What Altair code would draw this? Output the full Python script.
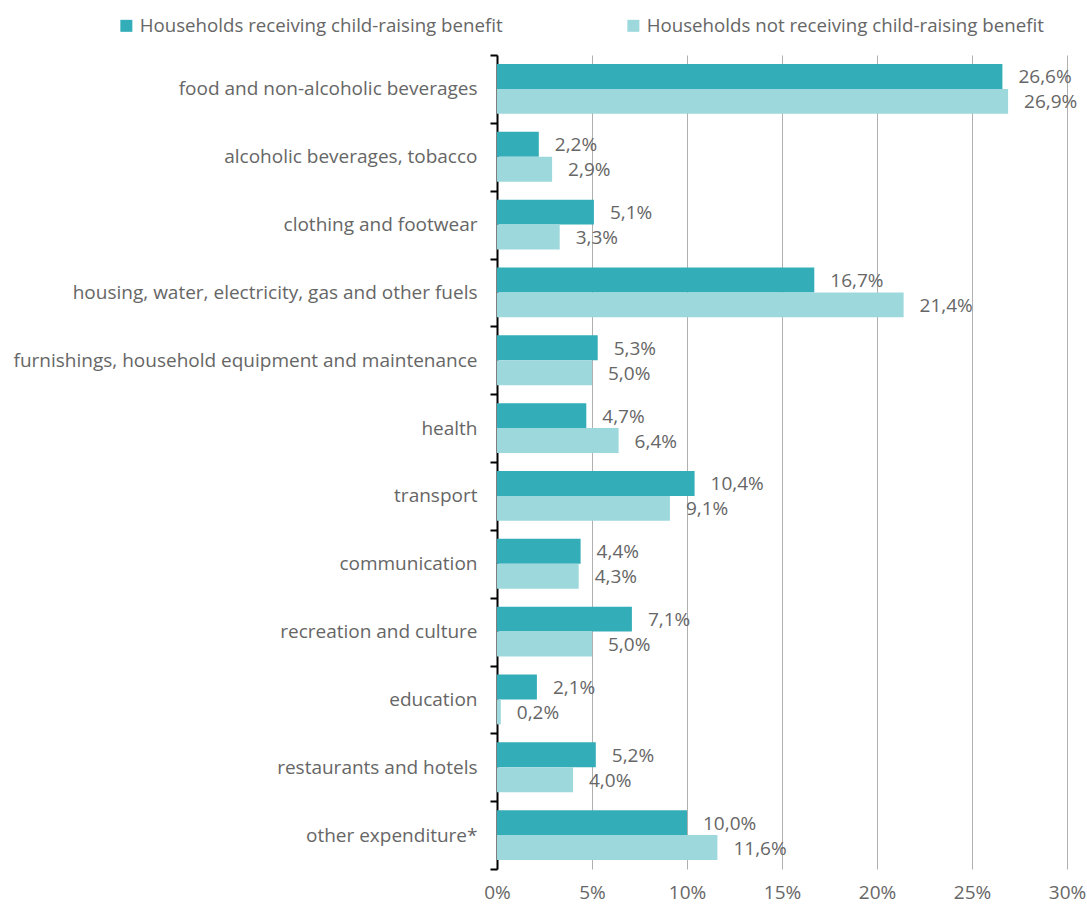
import altair as alt
import pandas as pd

# Expenditure categories, top to bottom
categories = [
    "food and non-alcoholic beverages",
    "alcoholic beverages, tobacco",
    "clothing and footwear",
    "housing, water, electricity, gas and other fuels",
    "furnishings, household equipment and maintenance",
    "health",
    "transport",
    "communication",
    "recreation and culture",
    "education",
    "restaurants and hotels",
    "other expenditure*",
]

series = [
    "Households receiving child-raising benefit",
    "Households not receiving child-raising benefit",
]

# Share of total consumption expenditure, %
receiving = [26.6, 2.2, 5.1, 16.7, 5.3, 4.7, 10.4, 4.4, 7.1, 2.1, 5.2, 10.0]
not_receiving = [26.9, 2.9, 3.3, 21.4, 5.0, 6.4, 9.1, 4.3, 5.0, 0.2, 4.0, 11.6]

colors = ["#33adb7", "#9dd8dc"]
text_color = "#666666"
font = "Open Sans"
fs = 19

rows = []
for cat, a, b in zip(categories, receiving, not_receiving):
    rows.append({"category": cat, "group": series[0], "value": a})
    rows.append({"category": cat, "group": series[1], "value": b})
df = pd.DataFrame(rows)

y_enc = alt.Y(
    "category:N",
    sort=categories,
    scale=alt.Scale(paddingInner=0, paddingOuter=0),
    axis=alt.Axis(
        title=None,
        tickBand="extent",
        domainColor="black",
        domainWidth=2,
        tickColor="black",
        tickWidth=2,
        tickSize=7,
        labelPadding=13,
        labelFontSize=fs,
        labelColor=text_color,
        labelLimit=600,
        grid=False,
    ),
)
yoff_enc = alt.YOffset(
    "group:N",
    sort=series,
    scale=alt.Scale(paddingOuter=0.36, paddingInner=0),
)

base = alt.Chart(df)

bars = base.mark_bar().encode(
    x=alt.X(
        "value:Q",
        scale=alt.Scale(domain=[0, 30], nice=False),
        axis=alt.Axis(
            title=None,
            values=[0, 5, 10, 15, 20, 25, 30],
            labelExpr="datum.value + '%'",
            labelFlush=False,
            grid=True,
            gridColor="#b0b0b0",
            gridWidth=1,
            domain=False,
            ticks=False,
            labelPadding=14,
            labelFontSize=fs,
            labelColor=text_color,
        ),
    ),
    y=y_enc,
    yOffset=yoff_enc,
    color=alt.Color(
        "group:N",
        sort=series,
        scale=alt.Scale(domain=series, range=colors),
        legend=alt.Legend(
            title=None,
            orient="none",
            direction="horizontal",
            legendX=-380,
            legendY=-39,
            symbolType="square",
            symbolSize=144,
            symbolStrokeWidth=0,
            labelFontSize=18.7,
            labelColor=text_color,
            labelLimit=600,
            labelOffset=4,
            columnPadding=121,
        ),
    ),
)

labels = base.transform_calculate(
    label="replace(format(datum.value, '.1f'), '.', ',') + '%'"
).mark_text(
    align="left",
    baseline="middle",
    dx=16,
    dy=1,
    fontSize=fs,
    color=text_color,
).encode(
    x="value:Q",
    y=alt.Y("category:N", sort=categories),
    yOffset=alt.YOffset("group:N", sort=series),
    text="label:N",
)

chart = (
    alt.layer(bars, labels)
    .properties(
        width=570,
        height=814,
        autosize=alt.AutoSizeParams(type="none"),
        padding={"left": 497, "top": 55, "right": 20, "bottom": 36},
    )
    .configure(font=font)
    .configure_view(stroke=None)
)

chart.save("out.html", embed_options={"renderer": "svg", "actions": False})
